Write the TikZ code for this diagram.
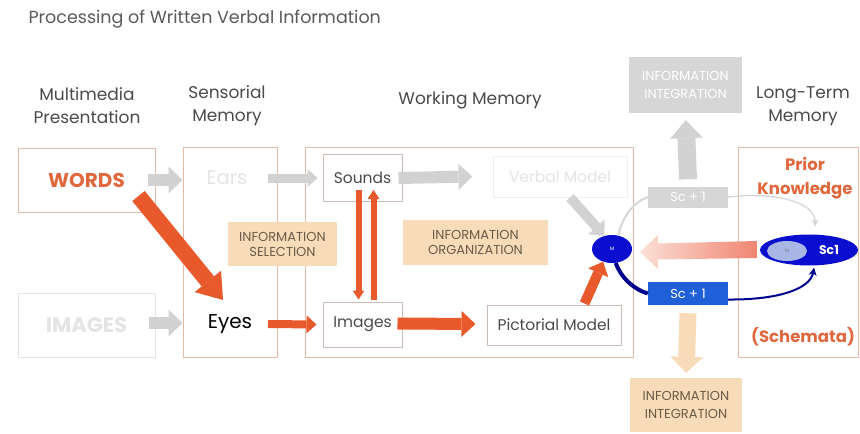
\documentclass[tikz,border=0pt]{standalone}
\usepackage{fontspec}
\setmainfont{Poppins}
\usetikzlibrary{arrows.meta,shapes.geometric,calc}
\definecolor{boxc}{HTML}{E3BBA3}
\definecolor{inbox}{HTML}{C9BDB6}
\definecolor{faint}{HTML}{E4E4E4}
\definecolor{hdr}{HTML}{4A4A4A}
\definecolor{ttl}{HTML}{5A5A5A}
\definecolor{orng}{HTML}{E8592B}
\definecolor{orngtxt}{HTML}{E0683E}
\definecolor{peach}{HTML}{F8DBB8}
\definecolor{peachtxt}{HTML}{6A5C48}
\definecolor{garr}{HTML}{D2D2D2}
\definecolor{mblue}{HTML}{0A0FCF}
\definecolor{bblue}{HTML}{1F5FD8}
\definecolor{dblue}{HTML}{00008E}
\definecolor{lblue}{HTML}{A9B7E6}
\definecolor{pinkL}{HTML}{FBE0D6}
\definecolor{pinkR}{HTML}{EF8572}
\definecolor{ggrey}{HTML}{D6D6D6}
\begin{document}
\begin{tikzpicture}[x=1pt,y=-1pt,
  bigbox/.style={draw=boxc, line width=1pt, inner sep=0pt},
  smallbox/.style={draw=inbox, line width=1pt, inner sep=0pt, font=\fontsize{15.5}{17}\selectfont, text=hdr},
  hdrtext/.style={text=hdr, font=\fontsize{17}{23}\selectfont, align=center},
  infolab/.style={fill=peach, inner sep=0pt, align=center, text=peachtxt, font=\fontsize{13}{15}\selectfont},
  blockarrow/.style n args={5}{draw=#1, line width=#2, -{Triangle[width=#3,length=#4,line width=0pt]}, shorten >=#5},
]
\useasboundingbox (0,0) rectangle (860,434);

% title and headers
\node[anchor=west, text=ttl, font=\fontsize{17.5}{19}\selectfont] (title) at (25,19) {Processing of Written Verbal Information};
\node[hdrtext] (h1) at (87,106) {Multimedia\\Presentation};
\node[hdrtext] (h2) at (227,106) {Sensorial\\Memory};
\node[hdrtext] (h3) at (470,100) {Working Memory};
\node[hdrtext] (h4) at (803,106) {Long-Term\\Memory};

% big boxes
\node[bigbox, minimum width=137pt, minimum height=64pt, text=orngtxt, font=\fontsize{20}{22}\selectfont\bfseries] (words) at (86.5,180) {WORDS};
\node[draw=faint, line width=1pt, minimum width=137pt, minimum height=64pt, text=faint, font=\fontsize{21}{23}\selectfont\bfseries] (images) at (86.5,325) {IMAGES};
\node[bigbox, minimum width=94pt, minimum height=210pt] (sens) at (230,252) {};
\node[bigbox, minimum width=328pt, minimum height=210pt] (work) at (469,252) {};
\node[bigbox, minimum width=120pt, minimum height=210pt] (ltm) at (798,252) {};

% sensorial texts
\node[text=faint, font=\fontsize{19.5}{21}\selectfont] (ears) at (227,178) {Ears};
\node[text=black, font=\fontsize{20}{22}\selectfont] (eyes) at (230,324) {Eyes};

% working memory boxes
\node[smallbox, minimum width=79pt, minimum height=47pt] (sounds) at (362.5,178) {Sounds};
\node[smallbox, minimum width=79pt, minimum height=45pt] (imgs) at (362.5,324.5) {Images};
\node[draw=faint!60, line width=1pt, minimum width=134pt, minimum height=41pt, inner sep=0pt, text=faint, font=\fontsize{15.5}{17}\selectfont] (verbal) at (560,176.5) {Verbal Model};
\node[smallbox, minimum width=134pt, minimum height=40pt] (pict) at (554,325) {Pictorial Model};

% info labels
\node[infolab, minimum width=109pt, minimum height=44pt] (sel) at (282.5,244) {INFORMATION\\SELECTION};
\node[infolab, minimum width=145pt, minimum height=45pt] (org) at (475.5,242.5) {INFORMATION\\ORGANIZATION};
\node[infolab, minimum width=112pt, minimum height=54pt, font=\fontsize{13}{18}\selectfont] (intb) at (686,405) {INFORMATION\\INTEGRATION};
\node[infolab, fill=ggrey, text=white, minimum width=113pt, minimum height=56pt, font=\fontsize{13}{18}\selectfont] (intt) at (685.5,85) {INFORMATION\\INTEGRATION};

% long-term memory texts
\node[text=orngtxt, font=\fontsize{16.5}{24}\selectfont\bfseries, align=center] (prior) at (805,178) {Prior\\Knowledge};
\node[text=orngtxt, font=\fontsize{16.5}{18}\selectfont\bfseries] (schem) at (803,337) {(Schemata)};

% ellipses
\node[ellipse, fill=mblue, minimum width=40pt, minimum height=28pt, inner sep=0pt, text=white, font=\fontsize{5}{6}\selectfont] (m) at (612,249) {M};
\node[ellipse, fill=mblue, minimum width=98pt, minimum height=31pt, inner sep=0pt] (sc1) at (809,250) {};
\node[ellipse, fill=lblue, minimum width=40pt, minimum height=20pt, inner sep=0pt, text=gray, font=\fontsize{5}{6}\selectfont] (mi) at (787,251) {M};
\node[text=white, font=\fontsize{12.5}{14}\selectfont\bfseries] (sc1t) at (829,250) {Sc1};

% Sc+1 boxes
\node[fill=ggrey, minimum width=80pt, minimum height=21pt, inner sep=0pt, text=white, font=\fontsize{13}{14}\selectfont] (sg) at (688,197) {Sc + 1};
\node[fill=bblue, minimum width=80pt, minimum height=23pt, inner sep=0pt, text=white, font=\fontsize{13}{14}\selectfont] (sb) at (688,293.5) {Sc + 1};

% grey arrows
\draw[blockarrow={garr}{12pt}{27pt}{14pt}{0pt}] ([xshift=-8pt]words.east) -- (sens.west |- words.east);
\draw[blockarrow={garr}{12pt}{27pt}{14pt}{0pt}] ([xshift=-7pt,yshift=2pt]images.east) -- ([yshift=2pt]sens.west |- images.east);
\draw[blockarrow={garr}{9pt}{18pt}{10pt}{0pt}] ([xshift=38pt]sens.center |- ears.east) -- ([xshift=-5pt]sounds.west);
\draw[blockarrow={garr}{12pt}{26pt}{14pt}{0pt}] ([xshift=-4pt]sounds.east) -- ([xshift=-20pt]verbal.west);
\draw[blockarrow={garr}{10pt}{22pt}{12pt}{0pt}] ([xshift=10pt]verbal.south) -- (m.120);
\draw[blockarrow={garr}{18pt}{33pt}{18pt}{7pt}] ([yshift=7pt]sg.north) -- (intt.south);

% orange arrows
\draw[blockarrow={orng}{16pt}{34pt}{24pt}{0pt}] ([xshift=52pt,yshift=-16pt]words.center) -- (223,300);
\draw[blockarrow={orng}{8pt}{18pt}{10pt}{0pt}] ([xshift=38pt]sens.center |- eyes.east) -- ([xshift=-6pt]imgs.west);
\draw[blockarrow={orng}{12pt}{26pt}{14pt}{0pt}] ([xshift=-5pt,yshift=1pt]imgs.east) -- ([xshift=-11pt,yshift=1pt]pict.west);
\draw[blockarrow={orng}{6pt}{12pt}{9pt}{0pt}] ([xshift=-4pt,yshift=12pt]sounds.south) -- ([xshift=-4pt,yshift=2pt]imgs.north);
\draw[blockarrow={orng}{6pt}{12pt}{9pt}{0pt}] ([xshift=11pt,yshift=2pt]imgs.north) -- ([xshift=11pt,yshift=12pt]sounds.south);
\draw[blockarrow={orng}{10pt}{22pt}{12pt}{0pt}] ([xshift=-37pt,yshift=1pt]pict.north east) -- (m.-125);

% peach down arrow
\draw[blockarrow={peach}{17pt}{33pt}{16pt}{5pt}] ([yshift=-8pt]sb.south) -- (intb.north);

% pink gradient arrow
\path[left color=pinkL, right color=pinkR] ([xshift=-3pt,yshift=1pt]sc1.west) -- ++(0,-8) -- (658,243.5) -- (658,235) -- (640,252) -- (658,269) -- (658,259.5) -- ([xshift=-3pt,yshift=-8pt]sc1.west) -- cycle;

% curves
\draw[ggrey, line width=2pt] (m.65) .. controls (622,218) and (632,203) .. (sg.west);
\draw[ggrey, line width=1.3pt, -{Stealth[length=7pt,width=7pt]}] (sg.east) .. controls (770,192) and (815,200) .. ([xshift=2pt,yshift=8pt]sc1.75);
\draw[dblue, line width=4pt] (m.-75) .. controls (622,280) and (636,290) .. (sb.west);
\draw[dblue, line width=2pt, -{Stealth[length=8pt,width=8pt]}] ([yshift=-6pt]sb.east) .. controls (775,300) and (810,290) .. ([yshift=-2pt]sc1.-72);
\end{tikzpicture}
\end{document}
